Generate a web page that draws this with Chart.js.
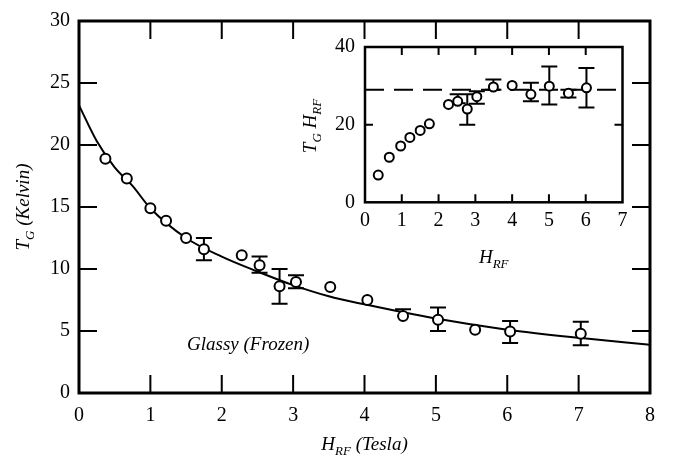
<!DOCTYPE html>
<html>
<head>
<meta charset="utf-8">
<script src="https://cdn.jsdelivr.net/npm/chart.js@4.4.0/dist/chart.umd.min.js"></script>
<style>
  html, body { margin: 0; padding: 0; background: #fff; }
  #wrap { position: relative; width: 677px; height: 462px; }
  #main { position: absolute; left: 0; top: 0; }
  #inset { position: absolute; left: 290px; top: 25px; }
</style>
</head>
<body>
<div id="wrap">
  <canvas id="main" width="677" height="462"></canvas>
  <canvas id="inset" width="345" height="250"></canvas>
</div>
<script>
// main panel: measured T_G against H_RF
const mainH  = [0.37, 0.67, 1.00, 1.22, 1.50, 1.75, 2.28, 2.53, 2.81, 3.04, 3.52, 4.04, 4.54, 5.03, 5.55, 6.04, 7.03];
const mainT  = [18.9, 17.3, 14.9, 13.9, 12.5, 11.6, 11.1, 10.3, 8.6, 8.95, 8.55, 7.5, 6.2, 5.9, 5.1, 4.96, 4.78];
const mainLo = [null, null, null, null, null, 10.7, null, 9.7, 7.2, 8.45, null, null, null, 5.0, null, 4.04, 3.86];
const mainHi = [null, null, null, null, null, 12.5, null, 11.0, 10.0, 9.5, null, null, 6.75, 6.9, null, 5.8, 5.75];

// fitted curve
const curveH = [0, 0.25, 0.5, 0.75, 1, 1.5, 2, 2.5, 3, 3.5, 4, 5, 6, 7, 8];
const curveT = [23.2, 20.3, 18.2, 16.7, 14.9, 12.5, 11.0, 9.8, 8.7, 7.8, 7.15, 6.0, 5.1, 4.45, 3.9];

// inset: T_G * H_RF against H_RF
const insetH  = [0.36, 0.66, 0.97, 1.22, 1.50, 1.75, 2.27, 2.52, 2.78, 3.04, 3.49, 4.00, 4.51, 5.01, 5.53, 6.02];
const insetTH = [7.0, 11.6, 14.5, 16.7, 18.5, 20.2, 25.2, 26.0, 24.0, 27.2, 29.7, 30.1, 27.8, 29.9, 28.1, 29.5];
const insetLo = [null, null, null, null, null, null, null, 25.5, 20.0, 25.4, 29.0, null, 26.0, 25.2, 27.0, 24.4];
const insetHi = [null, null, null, null, null, null, null, 27.8, 27.8, 28.6, 31.6, null, 30.8, 35.0, 29.0, 34.6];
const refH  = [0, 7];
const refTH = [29, 29];

const FONT = "'Liberation Serif', 'DejaVu Serif', serif";
Chart.defaults.font.family = FONT;
Chart.defaults.color = '#000';

function pts(xs, ys) {
  return xs.map((v, i) => ({ x: v, y: ys[i] }));
}

// text with subscripts, centred on (cx, cy)
function drawRich(ctx, parts, cx, cy, size, rot) {
  const big = 'italic ' + size + 'px ' + FONT;
  const small = 'italic ' + Math.round(size * 0.68) + 'px ' + FONT;
  ctx.save();
  ctx.translate(cx, cy);
  if (rot) ctx.rotate(rot);
  let w = 0;
  parts.forEach(p => { ctx.font = p[1] ? small : big; w += ctx.measureText(p[0]).width; });
  let x = -w / 2;
  ctx.fillStyle = '#000';
  ctx.textBaseline = 'alphabetic';
  parts.forEach(p => {
    ctx.font = p[1] ? small : big;
    ctx.fillText(p[0], x, p[1] ? size * 0.6 : size * 0.33);
    x += ctx.measureText(p[0]).width;
  });
  ctx.restore();
}

// box around the plot with inward ticks on all four sides
function framePlugin(lineW, tickLen, tickW) {
  return {
    id: 'frame',
    afterDraw(chart) {
      const { ctx, chartArea: a, scales: { x, y } } = chart;
      ctx.save();
      ctx.strokeStyle = '#000';
      ctx.lineWidth = tickW;
      ctx.beginPath();
      x.ticks.forEach(t => {
        if (t.value <= x.min || t.value >= x.max) return;
        const px = x.getPixelForValue(t.value);
        ctx.moveTo(px, a.bottom); ctx.lineTo(px, a.bottom - tickLen);
        ctx.moveTo(px, a.top); ctx.lineTo(px, a.top + tickLen);
      });
      y.ticks.forEach(t => {
        if (t.value <= y.min || t.value >= y.max) return;
        const py = y.getPixelForValue(t.value);
        ctx.moveTo(a.left, py); ctx.lineTo(a.left + tickLen, py);
        ctx.moveTo(a.right, py); ctx.lineTo(a.right - tickLen, py);
      });
      ctx.stroke();
      ctx.lineWidth = lineW;
      ctx.strokeRect(a.left, a.top, a.right - a.left, a.bottom - a.top);
      ctx.restore();
    }
  };
}

// vertical error bars, drawn under the markers
function errorBarPlugin(xs, ys, lo, hi, cap) {
  return {
    id: 'errorBars',
    beforeDatasetsDraw(chart) {
      const { ctx, scales: { x, y } } = chart;
      ctx.save();
      ctx.strokeStyle = '#000';
      ctx.lineWidth = 2;
      ctx.beginPath();
      xs.forEach((v, i) => {
        if (lo[i] == null && hi[i] == null) return;
        const px = x.getPixelForValue(v);
        const top = y.getPixelForValue(hi[i] != null ? hi[i] : ys[i]);
        const bot = y.getPixelForValue(lo[i] != null ? lo[i] : ys[i]);
        ctx.moveTo(px, top); ctx.lineTo(px, bot);
        if (hi[i] != null) { ctx.moveTo(px - cap / 2, top); ctx.lineTo(px + cap / 2, top); }
        if (lo[i] != null) { ctx.moveTo(px - cap / 2, bot); ctx.lineTo(px + cap / 2, bot); }
      });
      ctx.stroke();
      ctx.restore();
    }
  };
}

const mainLabels = {
  id: 'mainLabels',
  afterDraw(chart) {
    const { ctx, chartArea: a, scales: { x, y } } = chart;
    drawRich(ctx, [['H', 0], ['RF', 1], [' (Tesla)', 0]], (a.left + a.right) / 2, 444, 19, 0);
    drawRich(ctx, [['T', 0], ['G', 1], [' (Kelvin)', 0]], 23, (a.top + a.bottom) / 2, 19, -Math.PI / 2);
    drawRich(ctx, [['Glassy (Frozen)', 0]], x.getPixelForValue(2.37), y.getPixelForValue(4.0), 19, 0);
  }
};

const insetLabels = {
  id: 'insetLabels',
  afterDraw(chart) {
    const { ctx, chartArea: a } = chart;
    drawRich(ctx, [['H', 0], ['RF', 1]], (a.left + a.right) / 2, 232, 19, 0);
    drawRich(ctx, [['T', 0], ['G', 1], [' H', 0], ['RF', 1]], 20, 101, 19, -Math.PI / 2);
  }
};

function axisX(min, max, step, h, pad) {
  return {
    type: 'linear', min: min, max: max,
    grid: { display: false, drawTicks: false }, border: { display: false },
    ticks: { stepSize: step, autoSkip: false, maxRotation: 0, padding: pad, color: '#000', font: { family: FONT, size: 20 } },
    afterFit: s => { s.height = h; }
  };
}
function axisY(min, max, step, w, pad) {
  return {
    type: 'linear', min: min, max: max,
    grid: { display: false, drawTicks: false }, border: { display: false },
    ticks: { stepSize: step, autoSkip: false, padding: pad, color: '#000', font: { family: FONT, size: 20 } },
    afterFit: s => { s.width = w; }
  };
}

new Chart(document.getElementById('main'), {
  type: 'scatter',
  data: {
    datasets: [
      {
        data: pts(mainH, mainT), order: 0,
        pointStyle: 'circle', pointRadius: 5, pointBorderWidth: 2,
        pointBorderColor: '#000', pointBackgroundColor: '#fff'
      },
      {
        data: pts(curveH, curveT), order: 1, showLine: true,
        borderColor: '#000', borderWidth: 2, pointRadius: 0,
        cubicInterpolationMode: 'monotone'
      }
    ]
  },
  options: {
    responsive: false, animation: false,
    layout: { padding: { left: 0, top: 12, right: 27, bottom: 0 } },
    plugins: { legend: { display: false }, tooltip: { enabled: false } },
    scales: { x: axisX(0, 8, 1, 69, 11), y: axisY(0, 30, 5, 79, 9) }
  },
  plugins: [errorBarPlugin(mainH, mainT, mainLo, mainHi, 16), framePlugin(3, 18, 2), mainLabels]
});

new Chart(document.getElementById('inset'), {
  type: 'scatter',
  data: {
    datasets: [
      {
        data: pts(insetH, insetTH), order: 0,
        pointStyle: 'circle', pointRadius: 4.5, pointBorderWidth: 2,
        pointBorderColor: '#000', pointBackgroundColor: '#fff'
      },
      {
        data: pts(refH, refTH), order: 1, showLine: true,
        borderColor: '#000', borderWidth: 2, borderDash: [19, 10], pointRadius: 0
      }
    ]
  },
  options: {
    responsive: false, animation: false,
    layout: { padding: { left: 0, top: 15, right: 12.5, bottom: 0 } },
    plugins: { legend: { display: false }, tooltip: { enabled: false } },
    scales: { x: axisX(0, 7, 1, 72.7, 6), y: axisY(0, 40, 20, 75, 10) }
  },
  plugins: [errorBarPlugin(insetH, insetTH, insetLo, insetHi, 16), framePlugin(2.5, 8, 2), insetLabels]
});
</script>
</body>
</html>
